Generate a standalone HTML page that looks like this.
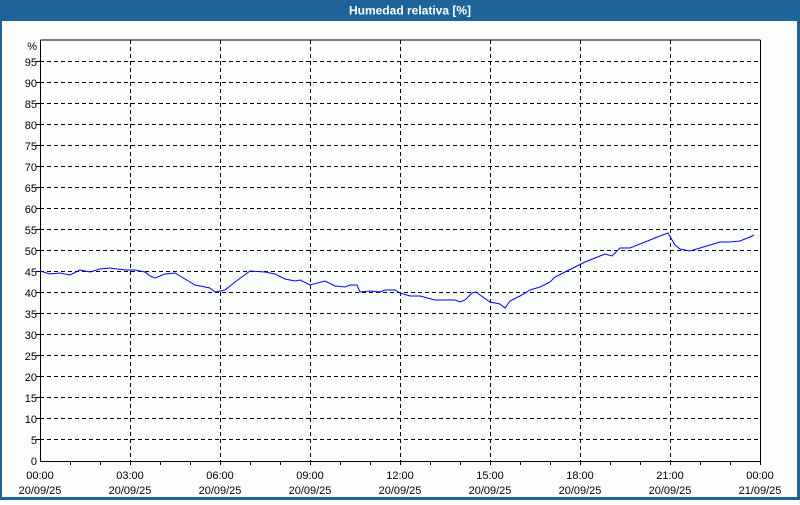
<!DOCTYPE html>
<html><head><meta charset="utf-8"><style>
body{margin:0;width:800px;height:500px;overflow:hidden;background:#fff;font-family:"Liberation Sans",sans-serif}
</style></head><body>
<svg width="800" height="500" xmlns="http://www.w3.org/2000/svg" font-family="Liberation Sans, sans-serif">
<rect x="0" y="0" width="800" height="500" fill="#1c6499"/>
<rect x="2" y="21" width="795" height="476" fill="#fcfefc"/>
<text x="410" y="14.5" fill="#fff" font-size="12" font-weight="bold" text-anchor="middle">Humedad relativa [%]</text>
<g stroke="#000" stroke-dasharray="4,3" stroke-width="1">
<path d="M130.5 40V461M220.5 40V461M310.5 40V461M400.5 40V461M490.5 40V461M580.5 40V461M670.5 40V461"/>
<path d="M40 61.5H759M40 82.5H759M40 103.5H759M40 124.5H759M40 145.5H759M40 166.5H759M40 187.5H759M40 208.5H759M40 229.5H759M40 250.5H759M40 271.5H759M40 292.5H759M40 313.5H759M40 334.5H759M40 355.5H759M40 376.5H759M40 397.5H759M40 418.5H759M40 439.5H759"/>
</g>
<path d="M40.5 40V461.5H760.5V40" fill="none" stroke="#000" stroke-width="1"/>
<path d="M40.5 40H760.5" stroke="#000" stroke-width="1"/>
<g stroke="#000"><path d="M70.5 461V465M100.5 461V465M130.5 461V465M160.5 461V465M190.5 461V465M220.5 461V465M250.5 461V465M280.5 461V465M310.5 461V465M340.5 461V465M370.5 461V465M400.5 461V465M430.5 461V465M460.5 461V465M490.5 461V465M520.5 461V465M550.5 461V465M580.5 461V465M610.5 461V465M640.5 461V465M670.5 461V465M700.5 461V465M730.5 461V465M760.5 461V465M36 61.5H40M36 82.5H40M36 103.5H40M36 124.5H40M36 145.5H40M36 166.5H40M36 187.5H40M36 208.5H40M36 229.5H40M36 250.5H40M36 271.5H40M36 292.5H40M36 313.5H40M36 334.5H40M36 355.5H40M36 376.5H40M36 397.5H40M36 418.5H40M36 439.5H40"/></g>
<g font-size="11" fill="#000" text-anchor="end">
<text x="37" y="50">%</text>
<text x="37" y="66">95</text><text x="37" y="87">90</text><text x="37" y="108">85</text><text x="37" y="129">80</text><text x="37" y="150">75</text><text x="37" y="171">70</text><text x="37" y="192">65</text><text x="37" y="213">60</text><text x="37" y="234">55</text><text x="37" y="255">50</text><text x="37" y="276">45</text><text x="37" y="297">40</text><text x="37" y="318">35</text><text x="37" y="339">30</text><text x="37" y="360">25</text><text x="37" y="381">20</text><text x="37" y="402">15</text><text x="37" y="423">10</text><text x="37" y="444">5</text><text x="37" y="465">0</text>
</g>
<g font-size="11" fill="#000" text-anchor="middle">
<text x="40" y="479">00:00</text><text x="40" y="494">20/09/25</text>
<text x="130" y="479">03:00</text><text x="130" y="494">20/09/25</text>
<text x="220" y="479">06:00</text><text x="220" y="494">20/09/25</text>
<text x="310" y="479">09:00</text><text x="310" y="494">20/09/25</text>
<text x="400" y="479">12:00</text><text x="400" y="494">20/09/25</text>
<text x="490" y="479">15:00</text><text x="490" y="494">20/09/25</text>
<text x="580" y="479">18:00</text><text x="580" y="494">20/09/25</text>
<text x="670" y="479">21:00</text><text x="670" y="494">20/09/25</text>
<text x="760" y="479">00:00</text><text x="760" y="494">21/09/25</text>
</g>
<polyline fill="none" stroke="#0000ff" stroke-width="1" points="40,271 50,274 60,273 70,275 80,270 90,272 100,269 110,268 125,270 135,270 145,272 150,276 155,278 165,274 175,273 185,279 195,285 210,288 215,292 225,290 235,282 250,271 265,272 275,274 285,279 295,281 300,280 310,285 325,281 335,286 345,287 350,285 357,285 360,292 370,291 380,292 385,290 395,290 400,293 410,296 420,296 435,300 445,300 455,300 460,302 465,300 472,293 476,292 480,295 490,302 500,304 505,308 510,301 520,296 530,290 540,287 550,282 555,277 565,272 575,267 585,262 595,258 605,254 612,256 620,248 630,248 640,244 650,240 660,236 668,233 675,245 680,249 690,251 700,248 710,245 720,242 730,242 740,241 750,237 754,235"/>
</svg>
</body></html>
